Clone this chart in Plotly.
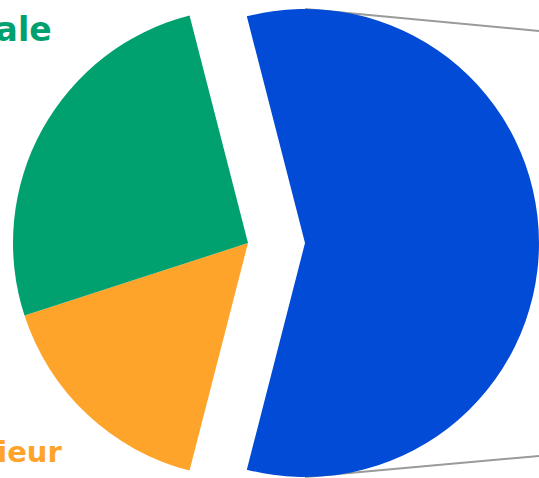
import plotly.graph_objects as go

labels = ["Autre", "Supérieur", "Générale"]
values = [58, 16, 26]
colors = ["#024BD7", "#FFA42B", "#00A06F"]

W, H = 539, 478
R = 235
cx_main, cy = 248, 243
pull_px = 57

transparent = "rgba(0,0,0,0)"
rot = 90 - values[0] / sum(values) * 180

fig = go.Figure()

# Blue slice (pulled out to the right)
cx_blue = cx_main + pull_px
fig.add_trace(go.Pie(
    labels=labels, values=values, sort=False, direction="clockwise", rotation=rot,
    marker=dict(colors=[colors[0], transparent, transparent], line=dict(width=0)),
    textinfo="none", hoverinfo="label+percent", showlegend=False,
    domain=dict(x=[(cx_blue - (W - cx_blue)) / W, 1],
                y=[max(0, (H - cy - R) / H), min(1, (H - cy + R) / H)]),
))
# Green and orange slices
fig.add_trace(go.Pie(
    labels=labels, values=values, sort=False, direction="clockwise", rotation=rot,
    marker=dict(colors=[transparent, colors[1], colors[2]], line=dict(width=0)),
    textinfo="none", hoverinfo="label+percent", showlegend=False,
    domain=dict(x=[(cx_main - R) / W, (cx_main + R) / W],
                y=[max(0, (H - cy - R) / H), min(1, (H - cy + R) / H)]),
))

# connector lines to the secondary chart
fig.add_shape(type="line", xref="paper", yref="paper",
              x0=305 / W, y0=1 - 9 / H, x1=1, y1=1 - 31 / H,
              line=dict(color="#9a9a9a", width=2), layer="below")
fig.add_shape(type="line", xref="paper", yref="paper",
              x0=305 / W, y0=1 - 477 / H, x1=1, y1=1 - 456 / H,
              line=dict(color="#9a9a9a", width=2), layer="below")

fig.add_annotation(text="<b>Générale</b>", xref="paper", yref="paper",
                   x=54 / W, y=1 - 29 / H, xanchor="right", yanchor="middle",
                   showarrow=False, font=dict(family="DejaVu Sans", size=33, color=colors[2]))
fig.add_annotation(text="<b>Supérieur</b>", xref="paper", yref="paper",
                   x=65 / W, y=1 - 452 / H, xanchor="right", yanchor="middle",
                   showarrow=False, font=dict(family="DejaVu Sans", size=29, color=colors[1]))

fig.update_layout(width=W, height=H, margin=dict(l=0, r=0, t=0, b=0),
                  paper_bgcolor="white", plot_bgcolor="white")

fig.write_html("out.html", config={"displayModeBar": False},
               post_script="document.body.style.margin='0';document.body.style.overflow='hidden';")
